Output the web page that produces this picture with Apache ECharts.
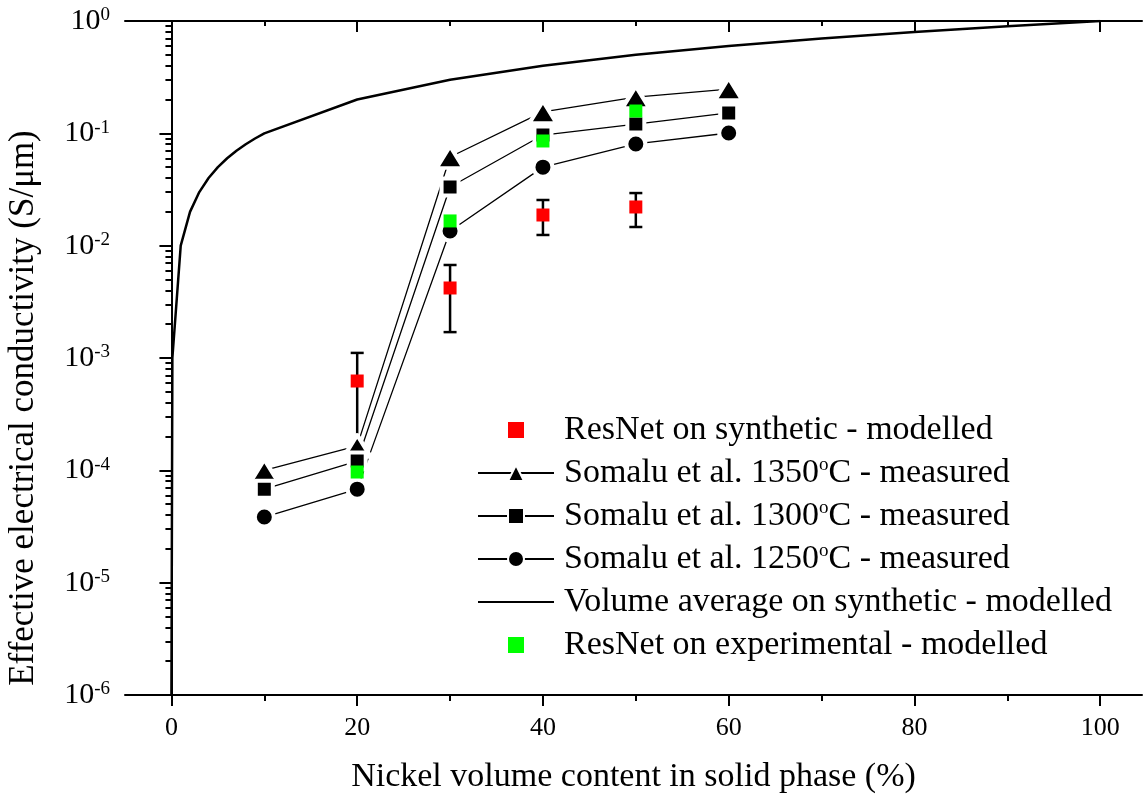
<!DOCTYPE html>
<html lang="en">
<head>
<meta charset="UTF-8">
<title>Effective electrical conductivity</title>
<script src="https://cdn.jsdelivr.net/npm/echarts@6/dist/echarts.min.js"></script>
<style>html,body{margin:0;padding:0;background:#fff;overflow:hidden;}</style>
</head>
<body>
<div id="main" style="width:1143px;height:796px;"></div>
<script>
// Somalu et al. measurements, Ni content in %
var niSomalu = [10, 20, 30, 40, 50, 60];
var somalu1350 = [1.0e-4, 1.65e-4, 0.0616, 0.155, 0.21, 0.248];
var somalu1300 = [6.8e-5, 1.21e-4, 0.0333, 0.0966, 0.121, 0.152];
var somalu1250 = [3.84e-5, 6.8e-5, 0.0135, 0.050, 0.0804, 0.1007];

// ResNet predictions
var niResNet = [20, 30, 40, 50];
var resnetSyn = [6.24e-4, 4.2e-3, 0.01875, 0.0221];
var resnetSynLow = [1.3e-4, 1.70e-3, 0.01245, 0.01466];
var resnetSynHigh = [1.11e-3, 6.73e-3, 0.0255, 0.0294];
var resnetExp = [9.66e-5, 0.0166, 0.0855, 0.158];

// volume average curve
var niVolume = [0, 0.1, 1, 2, 3, 4, 5, 6, 7, 8, 9, 10, 20, 30, 40, 50, 60, 70, 80, 90, 100];
var volumeAvg = [1e-6, 0.001, 0.01, 0.02, 0.03, 0.04, 0.05, 0.06, 0.07, 0.08, 0.09, 0.1, 0.2, 0.3, 0.4, 0.5, 0.6, 0.7, 0.8, 0.9, 1.0];

// ticks
var xMajor = [0, 20, 40, 60, 80, 100];
var xMinor = [10, 30, 50, 70, 90];
var yMajor = [1e-6, 1e-5, 1e-4, 1e-3, 1e-2, 1e-1, 1];
var yMinor = [];
yMajor.slice(0, -1).forEach(function (d) {
    for (var k = 2; k < 10; k++) yMinor.push(d * k);
});

var serif = 'Liberation Serif';
var pairs = function (xs, ys) { return xs.map(function (x, i) { return [x, ys[i]]; }); };

var names = {
    syn: 'ResNet on synthetic - modelled',
    s1350: 'Somalu et al. 1350°C - measured',
    s1300: 'Somalu et al. 1300°C - measured',
    s1250: 'Somalu et al. 1250°C - measured',
    vol: 'Volume average on synthetic - modelled',
    exp: 'ResNet on experimental - modelled'
};

var axLine = { show: true, lineStyle: { color: '#000', width: 2 } };

function xAx(pos, vals, len, inside, main) {
    return {
        type: 'value', min: -5, max: 104.5, position: pos,
        axisLine: main ? axLine : { show: false },
        axisTick: { show: true, inside: inside, length: len, customValues: vals, lineStyle: { color: '#000', width: 2 } },
        axisLabel: { show: false },
        splitLine: { show: false }
    };
}
function yAx(pos, vals, len, inside, main) {
    return {
        type: 'log', logBase: 10, min: 1e-6, max: 1, position: pos,
        axisLine: main ? axLine : { show: false },
        axisTick: { show: true, inside: inside, length: len, customValues: vals, lineStyle: { color: '#000', width: 2 } },
        axisLabel: { show: false },
        splitLine: { show: false }
    };
}

var xAxes = [
    xAx('bottom', xMajor, 11, false, true),
    xAx('bottom', xMinor, 6, false, false),
    xAx('top', xMajor, 11, true, true),
    xAx('top', xMinor, 5, true, false)
];
xAxes[0].axisLabel = {
    show: true, customValues: xMajor, margin: 20,
    fontFamily: serif, fontSize: 26, color: '#000'
};
xAxes[0].name = 'Nickel volume content in solid phase (%)';
xAxes[0].nameLocation = 'middle';
xAxes[0].nameGap = 65;
xAxes[0].nameTextStyle = { fontFamily: serif, fontSize: 34, color: '#000' };

var yAxes = [
    yAx('left', yMajor, 12, false, true),
    yAx('left', yMinor, 6, false, false),
    yAx('right', yMajor, 11, true, true),
    yAx('right', yMinor, 5, true, false)
];
yAxes[0].axisLabel = {
    show: true, customValues: yMajor, margin: 15,
    formatter: function (v) { return '{b|10}{s|' + Math.round(Math.log10(v)) + '}'; },
    rich: {
        b: { fontFamily: serif, fontSize: 30, color: '#000' },
        s: { fontFamily: serif, fontSize: 19, color: '#000', verticalAlign: 'top' }
    }
};
yAxes[0].name = 'Effective electrical conductivity (S/μm)';
yAxes[0].nameLocation = 'middle';
yAxes[0].nameGap = 84;
yAxes[0].nameTextStyle = { fontFamily: serif, fontSize: 35, color: '#000', padding: [0, 100, 0, 0] };

// white border around the black symbols leaves the small gap seen where lines meet them
function somalu(name, ys, symbol, size) {
    return {
        name: name, type: 'line', data: pairs(niSomalu, ys), z: 3,
        symbol: symbol, symbolSize: size, showSymbol: true,
        itemStyle: { color: '#000', borderColor: '#fff', borderWidth: 4, borderJoin: 'round' },
        lineStyle: { color: '#000', width: 1.3 },
        emphasis: { disabled: true }
    };
}
function markers(name, ys, color, z) {
    return {
        name: name, type: 'line', data: pairs(niResNet, ys), z: z,
        symbol: 'rect', symbolSize: 13, showSymbol: true,
        itemStyle: { color: color },
        lineStyle: { width: 0, opacity: 0 },
        emphasis: { disabled: true }
    };
}
var legendSym = { color: '#000', borderColor: '#fff', borderWidth: 2 };

var chart = echarts.init(document.getElementById('main'));
chart.setOption({
    animation: false,
    backgroundColor: '#fff',
    grid: { left: 125, right: 1, top: 21, bottom: 101, outerBoundsMode: 'none', containLabel: false },
    xAxis: xAxes,
    yAxis: yAxes,
    legend: {
        orient: 'vertical', left: 472, top: 408,
        itemWidth: 76, itemHeight: 20, itemGap: 9,
        data: [
            names.syn,
            { name: names.s1350, itemStyle: legendSym },
            { name: names.s1300, itemStyle: legendSym },
            { name: names.s1250, itemStyle: legendSym },
            { name: names.vol, itemStyle: { color: 'rgba(0,0,0,0)', borderWidth: 0 } },
            names.exp
        ],
        formatter: function (n) {
            var p = n.split('°');
            return p.length > 1 ? '{f|' + p[0] + '}{s|o}{t|' + p[1] + '}' : '{f|' + n + '}';
        },
        textStyle: {
            rich: {
                f: { fontFamily: serif, fontSize: 34, color: '#000', padding: [0, 0, 0, 5] },
                t: { fontFamily: serif, fontSize: 34, color: '#000' },
                s: { fontFamily: serif, fontSize: 19, color: '#000', verticalAlign: 'top' }
            }
        }
    },
    series: [
        {
            name: 'error', type: 'custom', z: 1,
            data: niResNet.map(function (x, i) { return [x, resnetSynLow[i], resnetSynHigh[i]]; }),
            encode: { x: 0, y: [1, 2] },
            renderItem: function (params, api) {
                var x = api.value(0);
                var lo = api.coord([x, api.value(1)]);
                var hi = api.coord([x, api.value(2)]);
                var st = { stroke: '#000', lineWidth: 2.5 };
                return {
                    type: 'group', children: [
                        { type: 'line', shape: { x1: lo[0], y1: lo[1], x2: hi[0], y2: hi[1] }, style: st },
                        { type: 'line', shape: { x1: lo[0] - 6.5, y1: lo[1], x2: lo[0] + 6.5, y2: lo[1] }, style: st },
                        { type: 'line', shape: { x1: hi[0] - 6.5, y1: hi[1], x2: hi[0] + 6.5, y2: hi[1] }, style: st }
                    ]
                };
            }
        },
        {
            name: names.vol, type: 'line', data: pairs(niVolume, volumeAvg), z: 2,
            symbol: 'none', clip: true,
            lineStyle: { color: '#000', width: 2.5 },
            itemStyle: { color: '#000' },
            emphasis: { disabled: true }
        },
        somalu(names.s1350, somalu1350, 'triangle', [27, 22]),
        somalu(names.s1300, somalu1300, 'rect', 17),
        somalu(names.s1250, somalu1250, 'circle', 19),
        markers(names.syn, resnetSyn, '#ff0000', 4),
        markers(names.exp, resnetExp, '#00ff00', 5)
    ]
});
</script>
</body>
</html>
